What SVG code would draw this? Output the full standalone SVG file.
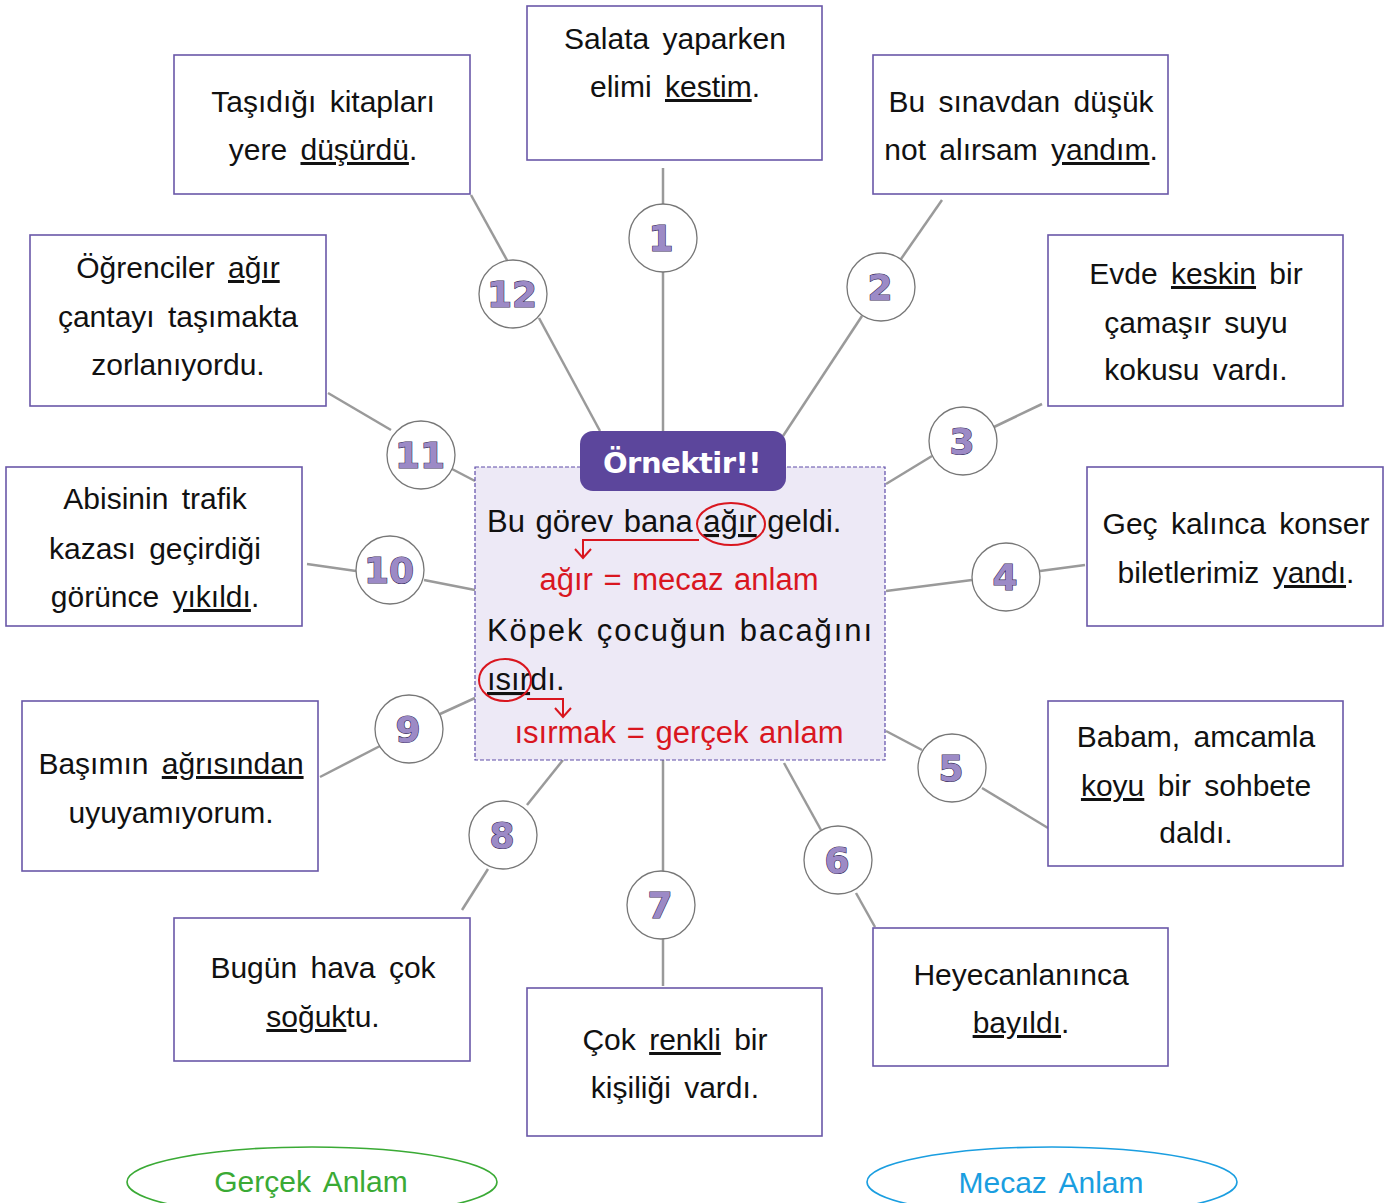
<svg xmlns="http://www.w3.org/2000/svg" width="1390" height="1203" viewBox="0 0 1390 1203">
<style>
.box{fill:#fff;stroke:#6a58a8;stroke-width:1.6}
.t{font-family:"Liberation Sans",Arial,sans-serif;font-size:30px;fill:#111;text-anchor:middle;word-spacing:5px}
.u{text-decoration:underline}
.ln{stroke:#9a9a9a;stroke-width:2.5;fill:none}
.c{fill:#fff;stroke:#777;stroke-width:1.3}
.n{font-family:"DejaVu Sans",sans-serif;font-weight:bold;font-size:36px;fill:#9c8ac6;stroke:#3a2e5a;stroke-width:1.2;paint-order:stroke;text-anchor:middle}
.ct{font-family:"Liberation Sans",Arial,sans-serif;font-size:31px;fill:#111;word-spacing:2px}
.red{fill:#d9161f;text-anchor:middle}
.rl{stroke:#d9161f;stroke-width:2;fill:none}
</style>
<g id="connectors">
<line class="ln" x1="663" y1="168" x2="663" y2="204"/>
<line class="ln" x1="663" y1="272" x2="663" y2="431"/>
<line class="ln" x1="942" y1="200" x2="901" y2="259"/>
<line class="ln" x1="862" y1="316" x2="783" y2="436"/>
<line class="ln" x1="1042" y1="404" x2="994" y2="427"/>
<line class="ln" x1="932" y1="456" x2="886" y2="484"/>
<line class="ln" x1="1085" y1="565" x2="1040" y2="571"/>
<line class="ln" x1="972" y1="580" x2="886" y2="591"/>
<line class="ln" x1="1048" y1="828" x2="982" y2="788"/>
<line class="ln" x1="922" y1="750" x2="886" y2="731"/>
<line class="ln" x1="875" y1="927" x2="856" y2="893"/>
<line class="ln" x1="821" y1="830" x2="784" y2="763"/>
<line class="ln" x1="663" y1="760" x2="663" y2="871"/>
<line class="ln" x1="663" y1="939" x2="663" y2="986"/>
<line class="ln" x1="462" y1="910" x2="488" y2="869"/>
<line class="ln" x1="527" y1="805" x2="563" y2="760"/>
<line class="ln" x1="320" y1="777" x2="380" y2="746"/>
<line class="ln" x1="440" y1="714" x2="475" y2="698"/>
<line class="ln" x1="307" y1="564" x2="356" y2="571"/>
<line class="ln" x1="424" y1="580" x2="475" y2="590"/>
<line class="ln" x1="328" y1="393" x2="391" y2="430"/>
<line class="ln" x1="452" y1="469" x2="475" y2="481"/>
<line class="ln" x1="471" y1="195" x2="508" y2="262"/>
<line class="ln" x1="539" y1="318" x2="600" y2="431"/>
</g>
<g id="center">
<rect x="475" y="467" width="410" height="293" fill="#ede9f6" stroke="#5e4ca8" stroke-width="1.2" stroke-dasharray="4 2"/>
<rect x="580" y="431" width="206" height="60" rx="13" fill="#5c469c"/>
<text x="682" y="473" font-family="'DejaVu Sans',sans-serif" font-weight="bold" font-size="29" letter-spacing="-0.5" fill="#fff" text-anchor="middle">Örnektir!!</text>
<text class="ct" x="487" y="532">Bu görev bana <tspan class="u">ağır</tspan> geldi.</text>
<text class="ct red" x="679" y="590">ağır = mecaz anlam</text>
<text class="ct" x="487" y="641" textLength="385" lengthAdjust="spacing">Köpek çocuğun bacağını</text>
<text class="ct" x="487" y="690"><tspan class="u">ısır</tspan>dı.</text>
<text class="ct red" x="679" y="743">ısırmak = gerçek anlam</text>
<ellipse class="rl" cx="731" cy="524" rx="34" ry="21"/>
<polyline class="rl" points="699,540 583,540 583,557"/>
<polyline class="rl" points="575,549 583,558 591,549"/>
<ellipse class="rl" cx="505" cy="680" rx="26" ry="21"/>
<polyline class="rl" points="527,699 563,699 563,716"/>
<polyline class="rl" points="555,708 563,717 571,708"/>
</g>
<g id="n1"><rect class="box" x="527" y="6" width="295" height="154"/>
<text class="t" x="675" y="49">Salata yaparken</text>
<text class="t" x="675" y="97">elimi <tspan class="u">kestim</tspan>.</text>
<circle class="c" cx="663" cy="238" r="34"/><text class="n" x="661" y="251">1</text></g>
<g id="n2"><rect class="box" x="873" y="55" width="295" height="139"/>
<text class="t" x="1021" y="112">Bu sınavdan düşük</text>
<text class="t" x="1021" y="160">not alırsam <tspan class="u">yandım</tspan>.</text>
<circle class="c" cx="881" cy="287" r="34"/><text class="n" x="880" y="300">2</text></g>
<g id="n3"><rect class="box" x="1048" y="235" width="295" height="171"/>
<text class="t" x="1196" y="284">Evde <tspan class="u">keskin</tspan> bir</text>
<text class="t" x="1196" y="333">çamaşır suyu</text>
<text class="t" x="1196" y="380">kokusu vardı.</text>
<circle class="c" cx="963" cy="441" r="34"/><text class="n" x="962" y="454">3</text></g>
<g id="n4"><rect class="box" x="1087" y="467" width="296" height="159"/>
<text class="t" x="1236" y="534">Geç kalınca konser</text>
<text class="t" x="1236" y="583">biletlerimiz <tspan class="u">yandı</tspan>.</text>
<circle class="c" cx="1006" cy="577" r="34"/><text class="n" x="1005" y="590">4</text></g>
<g id="n5"><rect class="box" x="1048" y="701" width="295" height="165"/>
<text class="t" x="1196" y="747">Babam, amcamla</text>
<text class="t" x="1196" y="796"><tspan class="u">koyu</tspan> bir sohbete</text>
<text class="t" x="1196" y="843">daldı.</text>
<circle class="c" cx="952" cy="768" r="34"/><text class="n" x="951" y="781">5</text></g>
<g id="n6"><rect class="box" x="873" y="928" width="295" height="138"/>
<text class="t" x="1021" y="985">Heyecanlanınca</text>
<text class="t" x="1021" y="1033"><tspan class="u">bayıldı</tspan>.</text>
<circle class="c" cx="838" cy="860" r="34"/><text class="n" x="837" y="873">6</text></g>
<g id="n7"><rect class="box" x="527" y="988" width="295" height="148"/>
<text class="t" x="675" y="1050">Çok <tspan class="u">renkli</tspan> bir</text>
<text class="t" x="675" y="1098">kişiliği vardı.</text>
<circle class="c" cx="661" cy="905" r="34"/><text class="n" x="660" y="918">7</text></g>
<g id="n8"><rect class="box" x="174" y="918" width="296" height="143"/>
<text class="t" x="323" y="978">Bugün hava çok</text>
<text class="t" x="323" y="1027"><tspan class="u">soğuk</tspan>tu.</text>
<circle class="c" cx="503" cy="835" r="34"/><text class="n" x="502" y="848">8</text></g>
<g id="n9"><rect class="box" x="22" y="701" width="296" height="170"/>
<text class="t" x="171" y="774">Başımın <tspan class="u">ağrısından</tspan></text>
<text class="t" x="171" y="823">uyuyamıyorum.</text>
<circle class="c" cx="409" cy="729" r="34"/><text class="n" x="408" y="742">9</text></g>
<g id="n10"><rect class="box" x="6" y="467" width="296" height="159"/>
<text class="t" x="155" y="509">Abisinin trafik</text>
<text class="t" x="155" y="559">kazası geçirdiği</text>
<text class="t" x="155" y="607">görünce <tspan class="u">yıkıldı</tspan>.</text>
<circle class="c" cx="390" cy="570" r="34"/><text class="n" x="389" y="583">10</text></g>
<g id="n11"><rect class="box" x="30" y="235" width="296" height="171"/>
<text class="t" x="178" y="278">Öğrenciler <tspan class="u">ağır</tspan></text>
<text class="t" x="178" y="327">çantayı taşımakta</text>
<text class="t" x="178" y="375">zorlanıyordu.</text>
<circle class="c" cx="421" cy="455" r="34"/><text class="n" x="420" y="468">11</text></g>
<g id="n12"><rect class="box" x="174" y="55" width="296" height="139"/>
<text class="t" x="323" y="112">Taşıdığı kitapları</text>
<text class="t" x="323" y="160">yere <tspan class="u">düşürdü</tspan>.</text>
<circle class="c" cx="513" cy="294" r="34"/><text class="n" x="512" y="307">12</text></g>
<g id="legend-gercek"><ellipse cx="312" cy="1182" rx="185" ry="35" fill="none" stroke="#3aaa35" stroke-width="1.6"/>
<text class="t" x="311" y="1192" style="fill:#3aaa35">Gerçek Anlam</text></g>
<g id="legend-mecaz"><ellipse cx="1052" cy="1182" rx="185" ry="35" fill="none" stroke="#1a9ee0" stroke-width="1.6"/>
<text class="t" x="1051" y="1193" style="fill:#1a9ee0">Mecaz Anlam</text></g>
</svg>
